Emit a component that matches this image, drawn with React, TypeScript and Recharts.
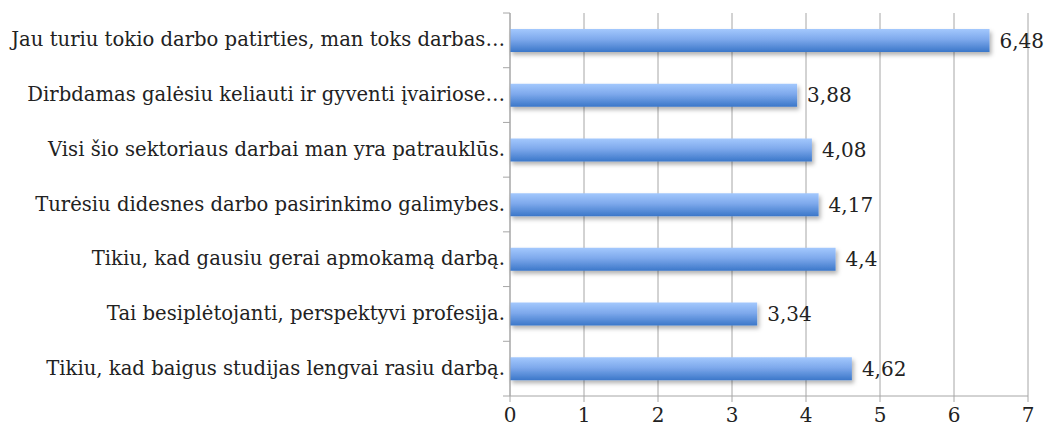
import { Bar, BarChart, CartesianGrid, LabelList, XAxis, YAxis } from "recharts";

const categories = [
  "Jau turiu tokio darbo patirties, man toks darbas…",
  "Dirbdamas galėsiu keliauti ir gyventi įvairiose…",
  "Visi šio sektoriaus darbai man yra patrauklūs.",
  "Turėsiu didesnes darbo pasirinkimo galimybes.",
  "Tikiu, kad gausiu gerai apmokamą darbą.",
  "Tai besiplėtojanti, perspektyvi profesija.",
  "Tikiu, kad baigus studijas lengvai rasiu darbą.",
];
const values = [6.48, 3.88, 4.08, 4.17, 4.4, 3.34, 4.62];
const xTicks = [0, 1, 2, 3, 4, 5, 6, 7];

const data = categories.map((name, i) => ({ name, value: values[i] }));

const W = 1050;
const H = 434;
const TOP = 13;
const AXIS_H = 38;
const BAND = (H - TOP - AXIS_H) / categories.length;
const FONT = "'DejaVu Serif', 'Liberation Serif', serif";
const GRID = "#a6a6a6";

function CategoryTick(props: any) {
  const { x, y, payload, index } = props;
  const axisX = x + 9;
  return (
    <g>
      <line x1={axisX - 7} x2={axisX} y1={y - BAND / 2} y2={y - BAND / 2} stroke={GRID} />
      {index === categories.length - 1 && (
        <line x1={axisX - 7} x2={axisX} y1={y + BAND / 2} y2={y + BAND / 2} stroke={GRID} />
      )}
      <text x={axisX - 5} y={y} dy={6} textAnchor="end" fill="#222" fontSize={19.6} fontFamily={FONT}>
        {payload.value}
      </text>
    </g>
  );
}

export default function App() {
  return (
    <div style={{ position: "absolute", left: 0, top: 0, width: W, height: H, background: "#fff" }}>
      <BarChart
        width={W}
        height={H}
        data={data}
        layout="vertical"
        margin={{ top: TOP, right: 22, bottom: 0, left: 0 }}
        barCategoryGap={0}
      >
        <defs>
          <linearGradient id="barFill" x1="0" y1="0" x2="0" y2="1">
            <stop offset="0%" stopColor="#a3c8fd" />
            <stop offset="45%" stopColor="#7ea9ec" />
            <stop offset="100%" stopColor="#3b77c9" />
          </linearGradient>
          <filter id="barShadow" x="-5%" y="-30%" width="115%" height="190%">
            <feDropShadow dx="2" dy="3" stdDeviation="2" floodColor="#000" floodOpacity="0.3" />
          </filter>
        </defs>
        <CartesianGrid horizontal={false} stroke={GRID} strokeDasharray="" />
        <XAxis
          type="number"
          domain={[0, 7]}
          ticks={xTicks}
          interval={0}
          height={AXIS_H}
          axisLine={{ stroke: GRID }}
          tickLine={{ stroke: GRID }}
          tickSize={6}
          tickMargin={6}
          tick={{ fill: "#222", fontSize: 20, fontFamily: FONT }}
        />
        <YAxis
          type="category"
          dataKey="name"
          width={510}
          axisLine={{ stroke: GRID }}
          tickLine={false}
          tickSize={0}
          tickMargin={9}
          interval={0}
          tick={<CategoryTick />}
        />
        <Bar
          dataKey="value"
          fill="url(#barFill)"
          barSize={23}
          filter="url(#barShadow)"
          isAnimationActive={false}
        >
          <LabelList
            dataKey="value"
            position="right"
            offset={10}
            fill="#222"
            fontSize={20}
            fontFamily={FONT}
            formatter={(v: any) => String(v).replace(".", ",")}
          />
        </Bar>
      </BarChart>
    </div>
  );
}
